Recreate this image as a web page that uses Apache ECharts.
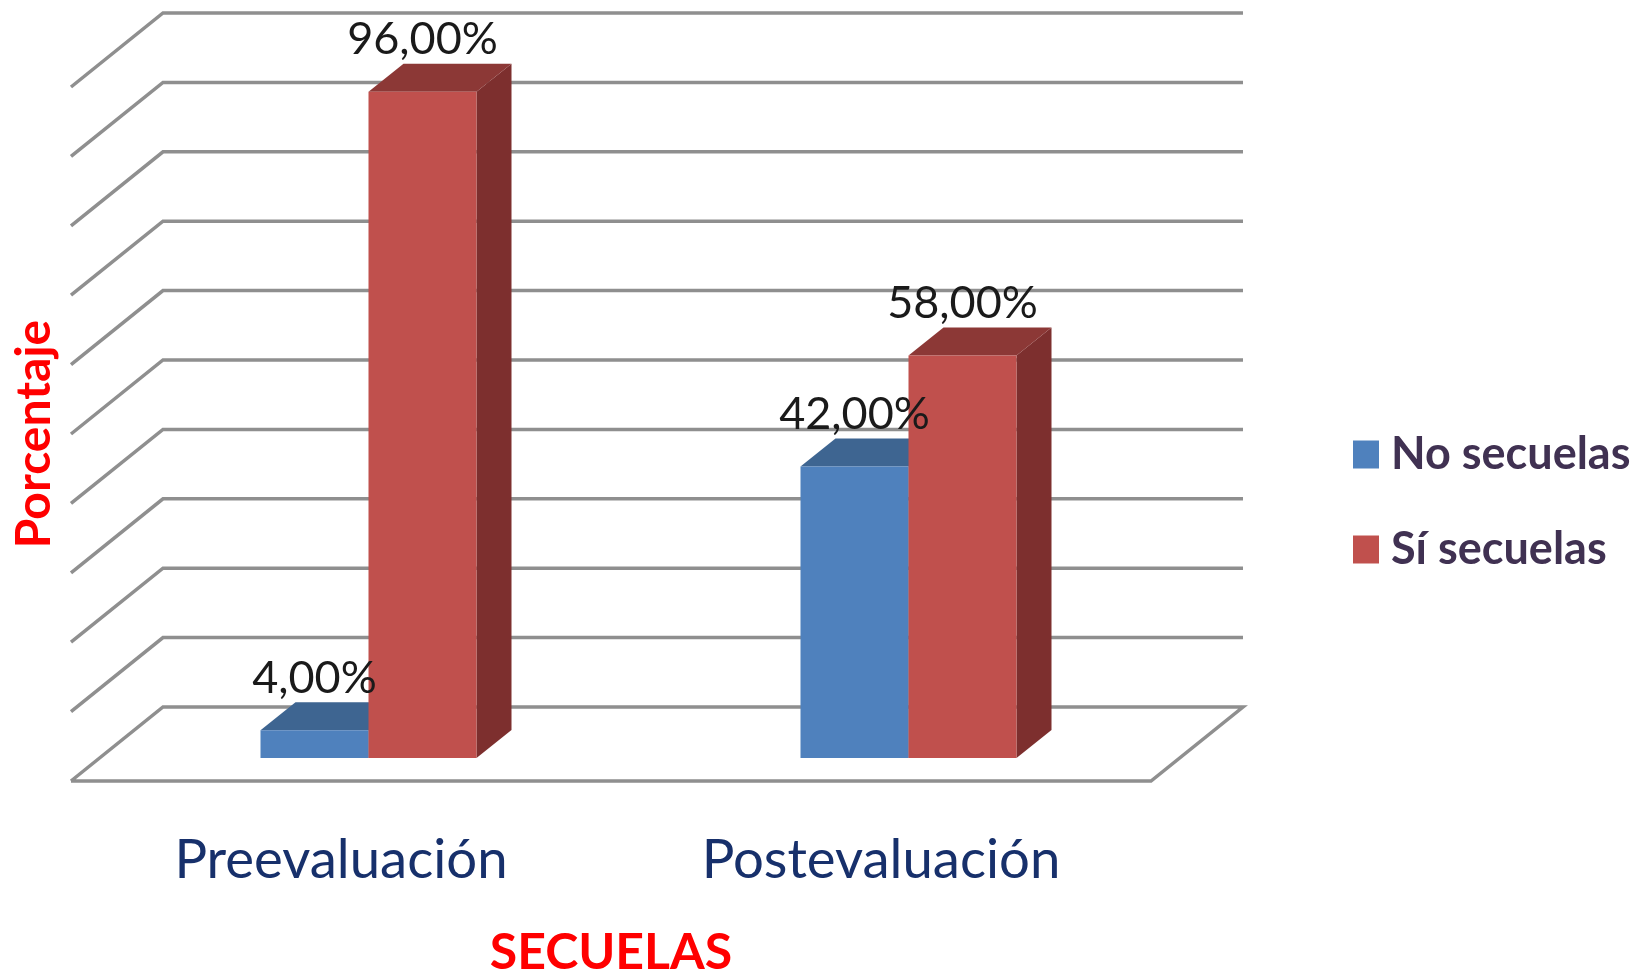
<!DOCTYPE html>
<html>
<head>
<meta charset="utf-8">
<style>
  html, body { margin: 0; padding: 0; background: #ffffff; }
  #chart { width: 1648px; height: 973px; }
</style>
<script src="https://cdn.jsdelivr.net/npm/echarts@6/dist/echarts.min.js"></script>
</head>
<body>
<div id="chart"></div>
<script>
  const categories = ['Preevaluación', 'Postevaluación']
  const noSecuelas = [4, 42]
  const siSecuelas = [96, 58]
  const noLabels = ['4,00%', '42,00%']
  const siLabels = ['96,00%', '58,00%']
  const gridTicks = [0, 10, 20, 30, 40, 50, 60, 70, 80, 90, 100]

  // depth of the fake 3d box, in px
  const wallDx = 92
  const wallDy = 74
  const barShiftX = 27.5
  const barShiftY = 23
  const barDx = 35
  const barDy = 28
  const gridColor = '#8f8f8f'

  function renderWall(params, api) {
    const rect = params.coordSys
    const y = api.coord([0, api.value(0)])[1]
    const left = rect.x
    const right = rect.x + rect.width
    const points = [
      [left, y],
      [left + wallDx, y - wallDy],
      [right + wallDx, y - wallDy]
    ]
    if (api.value(0) === 0) {
      points.push([right, y], [left, y])
    }
    return {
      type: 'polyline',
      shape: { points: points },
      style: { fill: null, stroke: gridColor, lineWidth: 3.5, lineJoin: 'miter' },
      z2: 1
    }
  }

  function makeBarRenderer(side, front, top, dark, labels) {
    return function (params, api) {
      const idx = api.value(0)
      const base = api.coord([idx, 0])
      const head = api.coord([idx, api.value(1)])
      const w = api.size([1, 0])[0] * 0.2
      const x0 = base[0] + barShiftX + (side < 0 ? -w : 0)
      const x1 = x0 + w
      const y0 = base[1] - barShiftY
      const y1 = head[1] - barShiftY
      return {
        type: 'group',
        children: [
          {
            type: 'polygon',
            z2: 3 + side,
            shape: { points: [[x1, y0], [x1 + barDx, y0 - barDy], [x1 + barDx, y1 - barDy], [x1, y1]] },
            style: { fill: dark }
          },
          {
            type: 'polygon',
            z2: 3 + side,
            shape: { points: [[x0, y1], [x0 + barDx, y1 - barDy], [x1 + barDx, y1 - barDy], [x1, y1]] },
            style: { fill: top }
          },
          {
            type: 'rect',
            z2: 3 + side,
            shape: { x: x0, y: y1, width: w, height: y0 - y1 },
            style: { fill: front }
          },
          {
            type: 'text',
            z2: 10,
            style: {
              x: (x0 + x1) / 2,
              y: y1 - 52,
              text: labels[params.dataIndex],
              fill: '#1a1a1a',
              font: '45px Lato',
              align: 'center',
              verticalAlign: 'middle'
            }
          }
        ]
      }
    }
  }

  const chart = echarts.init(document.getElementById('chart'))
  chart.setOption({
    animation: false,
    backgroundColor: '#ffffff',
    grid: { left: 71, top: 87, width: 1080, height: 694, outerBoundsMode: 'none' },
    legend: {
      data: ['No secuelas', 'Sí secuelas'],
      orient: 'vertical',
      left: 1348,
      top: 427,
      itemWidth: 26,
      itemHeight: 28,
      itemGap: 50,
      icon: 'rect',
      textStyle: {
        color: '#403152',
        fontFamily: 'Lato',
        fontWeight: 'bold',
        fontSize: 45,
        padding: [0, 0, 0, 7]
      }
    },
    xAxis: {
      type: 'category',
      data: categories,
      axisLine: { show: false },
      axisTick: { show: false },
      axisLabel: { color: '#17306b', fontFamily: 'Lato', fontSize: 54.5, margin: 52 },
      name: 'SECUELAS',
      nameLocation: 'middle',
      nameGap: 147,
      nameTextStyle: { color: '#ff0000', fontFamily: 'Lato', fontWeight: 'bold', fontSize: 50 }
    },
    yAxis: {
      type: 'value',
      min: 0,
      max: 100,
      interval: 10,
      axisLine: { show: false },
      axisTick: { show: false },
      axisLabel: { show: false },
      splitLine: { show: false },
      name: 'Porcentaje',
      nameLocation: 'middle',
      nameGap: 12,
      nameTextStyle: { color: '#ff0000', fontFamily: 'Lato', fontWeight: 'bold', fontSize: 48 }
    },
    series: [
      {
        type: 'custom',
        name: 'wall',
        silent: true,
        renderItem: renderWall,
        encode: { y: 0 },
        data: gridTicks.map((t) => [t])
      },
      {
        type: 'custom',
        name: 'No secuelas',
        itemStyle: { color: '#4f81bd' },
        renderItem: makeBarRenderer(-1, '#4f81bd', '#3e6591', '#38597f', noLabels),
        encode: { x: 0, y: 1 },
        data: noSecuelas.map((v, i) => [i, v])
      },
      {
        type: 'custom',
        name: 'Sí secuelas',
        itemStyle: { color: '#c0504d' },
        renderItem: makeBarRenderer(1, '#c0504d', '#8c3836', '#7d2f2e', siLabels),
        encode: { x: 0, y: 1 },
        data: siSecuelas.map((v, i) => [i, v])
      }
    ]
  })
</script>
</body>
</html>
